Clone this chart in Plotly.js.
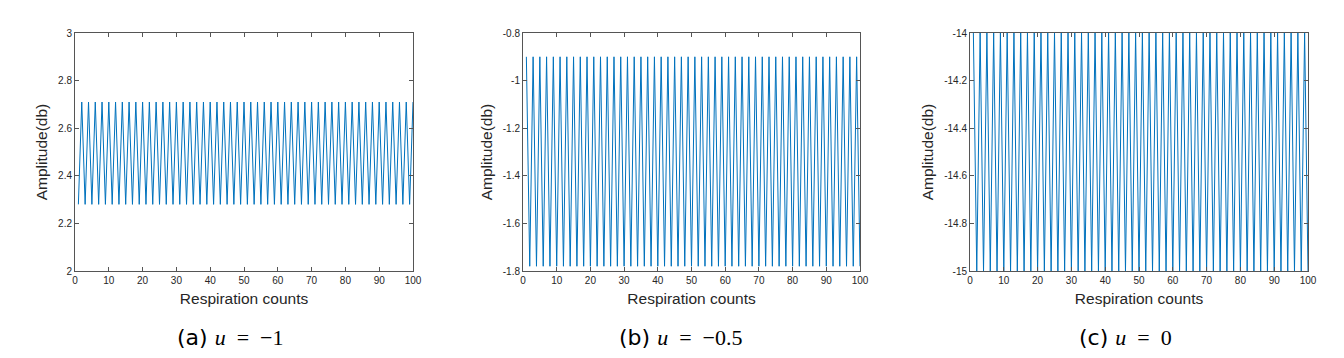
<!DOCTYPE html>
<html>
<head>
<meta charset="utf-8">
<script src="https://cdn.plot.ly/plotly-3.0.1.min.js"></script>
<style>html,body{margin:0;padding:0;background:#fff;}#chart{width:1344px;height:358px;}</style>
</head>
<body>
<div id="chart"></div>
<script>
// Respiration counts (x) shared by all panels
const counts = [1,2,3,4,5,6,7,8,9,10,11,12,13,14,15,16,17,18,19,20,21,22,23,24,25,26,27,28,29,30,31,32,33,34,35,36,37,38,39,40,41,42,43,44,45,46,47,48,49,50,51,52,53,54,55,56,57,58,59,60,61,62,63,64,65,66,67,68,69,70,71,72,73,74,75,76,77,78,79,80,81,82,83,84,85,86,87,88,89,90,91,92,93,94,95,96,97,98,99,100];

// (a) u = -1
const ampA = [2.28,2.71,2.28,2.71,2.28,2.71,2.28,2.71,2.28,2.71,2.28,2.71,2.28,2.71,2.28,2.71,2.28,2.71,2.28,2.71,2.28,2.71,2.28,2.71,2.28,2.71,2.28,2.71,2.28,2.71,2.28,2.71,2.28,2.71,2.28,2.71,2.28,2.71,2.28,2.71,2.28,2.71,2.28,2.71,2.28,2.71,2.28,2.71,2.28,2.71,2.28,2.71,2.28,2.71,2.28,2.71,2.28,2.71,2.28,2.71,2.28,2.71,2.28,2.71,2.28,2.71,2.28,2.71,2.28,2.71,2.28,2.71,2.28,2.71,2.28,2.71,2.28,2.71,2.28,2.71,2.28,2.71,2.28,2.71,2.28,2.71,2.28,2.71,2.28,2.71,2.28,2.71,2.28,2.71,2.28,2.71,2.28,2.71,2.28,2.71];

// (b) u = -0.5
const ampB = [-0.9,-1.78,-0.9,-1.78,-0.9,-1.78,-0.9,-1.78,-0.9,-1.78,-0.9,-1.78,-0.9,-1.78,-0.9,-1.78,-0.9,-1.78,-0.9,-1.78,-0.9,-1.78,-0.9,-1.78,-0.9,-1.78,-0.9,-1.78,-0.9,-1.78,-0.9,-1.78,-0.9,-1.78,-0.9,-1.78,-0.9,-1.78,-0.9,-1.78,-0.9,-1.78,-0.9,-1.78,-0.9,-1.78,-0.9,-1.78,-0.9,-1.78,-0.9,-1.78,-0.9,-1.78,-0.9,-1.78,-0.9,-1.78,-0.9,-1.78,-0.9,-1.78,-0.9,-1.78,-0.9,-1.78,-0.9,-1.78,-0.9,-1.78,-0.9,-1.78,-0.9,-1.78,-0.9,-1.78,-0.9,-1.78,-0.9,-1.78,-0.9,-1.78,-0.9,-1.78,-0.9,-1.78,-0.9,-1.78,-0.9,-1.78,-0.9,-1.78,-0.9,-1.78,-0.9,-1.78,-0.9,-1.78,-0.9,-1.78,-0.9,-1.78];

// (c) u = 0
const ampC = [-14,-15,-14,-15,-14,-15,-14,-15,-14,-15,-14,-15,-14,-15,-14,-15,-14,-15,-14,-15,-14,-15,-14,-15,-14,-15,-14,-15,-14,-15,-14,-15,-14,-15,-14,-15,-14,-15,-14,-15,-14,-15,-14,-15,-14,-15,-14,-15,-14,-15,-14,-15,-14,-15,-14,-15,-14,-15,-14,-15,-14,-15,-14,-15,-14,-15,-14,-15,-14,-15,-14,-15,-14,-15,-14,-15,-14,-15,-14,-15,-14,-15,-14,-15,-14,-15,-14,-15,-14,-15,-14,-15,-14,-15,-14,-15,-14,-15,-14,-15];

const xTicks = [0,10,20,30,40,50,60,70,80,90,100];
const yTicksA = [2,2.2,2.4,2.6,2.8,3];
const yTicksB = [-1.8,-1.6,-1.4,-1.2,-1,-0.8];
const yTicksC = [-15,-14.8,-14.6,-14.4,-14.2,-14];
const captions = ['(a)', '(b)', '(c)'];
const uValues = ['−1', '−0.5', '0'];

const W = 1344, H = 358;
const lineColor = '#0072BD';
const axColor = '#555555';
const tickFont = {family: 'Liberation Sans, Arial, sans-serif', size: 10, color: '#262626'};
const titleFont = {family: 'Liberation Sans, Arial, sans-serif', size: 15.5, color: '#262626'};

const panels = [
  {x0: 75, x1: 413, yr: [2, 3], yt: yTicksA, y: ampA, cap: 230},
  {x0: 523, x1: 860, yr: [-1.8, -0.8], yt: yTicksB, y: ampB, cap: 680},
  {x0: 970, x1: 1308, yr: [-15, -14], yt: yTicksC, y: ampC, cap: 1125}
];
const yTop = 33, yBot = 271;

const traces = [];
const layout = {
  width: W, height: H,
  margin: {l: 0, r: 0, t: 0, b: 0},
  paper_bgcolor: '#fff', plot_bgcolor: '#fff',
  showlegend: false,
  annotations: []
};

panels.forEach((p, i) => {
  const n = i === 0 ? '' : String(i + 1);
  traces.push({
    x: counts, y: p.y, type: 'scatter', mode: 'lines',
    line: {color: lineColor, width: 1},
    xaxis: 'x' + n, yaxis: 'y' + n, cliponaxis: true
  });
  const common = {
    showline: true, linecolor: axColor, linewidth: 1, mirror: 'ticks',
    ticks: 'inside', ticklen: 4, tickcolor: axColor, tickwidth: 1,
    showgrid: false, zeroline: false, tickfont: tickFont, fixedrange: true
  };
  layout['xaxis' + n] = Object.assign({}, common, {
    domain: [p.x0 / W, p.x1 / W], range: [0, 100],
    tickmode: 'array', tickvals: xTicks, ticktext: xTicks.map(String),
    anchor: 'y' + n,
    title: {text: 'Respiration counts', font: titleFont, standoff: 8}
  });
  layout['yaxis' + n] = Object.assign({}, common, {
    domain: [1 - yBot / H, 1 - yTop / H], range: p.yr,
    tickmode: 'array', tickvals: p.yt, ticktext: p.yt.map(String),
    anchor: 'x' + n,
    title: {text: 'Amplitude(db)', font: titleFont, standoff: 6}
  });
  layout.annotations.push({
    xref: 'paper', yref: 'paper', x: p.cap / W, y: 1 - 337 / H,
    xanchor: 'center', yanchor: 'middle', showarrow: false,
    text: captions[i] + '&nbsp;<span style="font-family:Liberation Serif, serif"><i>u</i>&nbsp;&nbsp;=&nbsp;&nbsp;' + uValues[i] + '</span>',
    font: {family: 'DejaVu Sans, sans-serif', size: 22, color: '#000'}
  });
});

Plotly.newPlot('chart', traces, layout, {staticPlot: true, displayModeBar: false});
</script>
</body>
</html>
